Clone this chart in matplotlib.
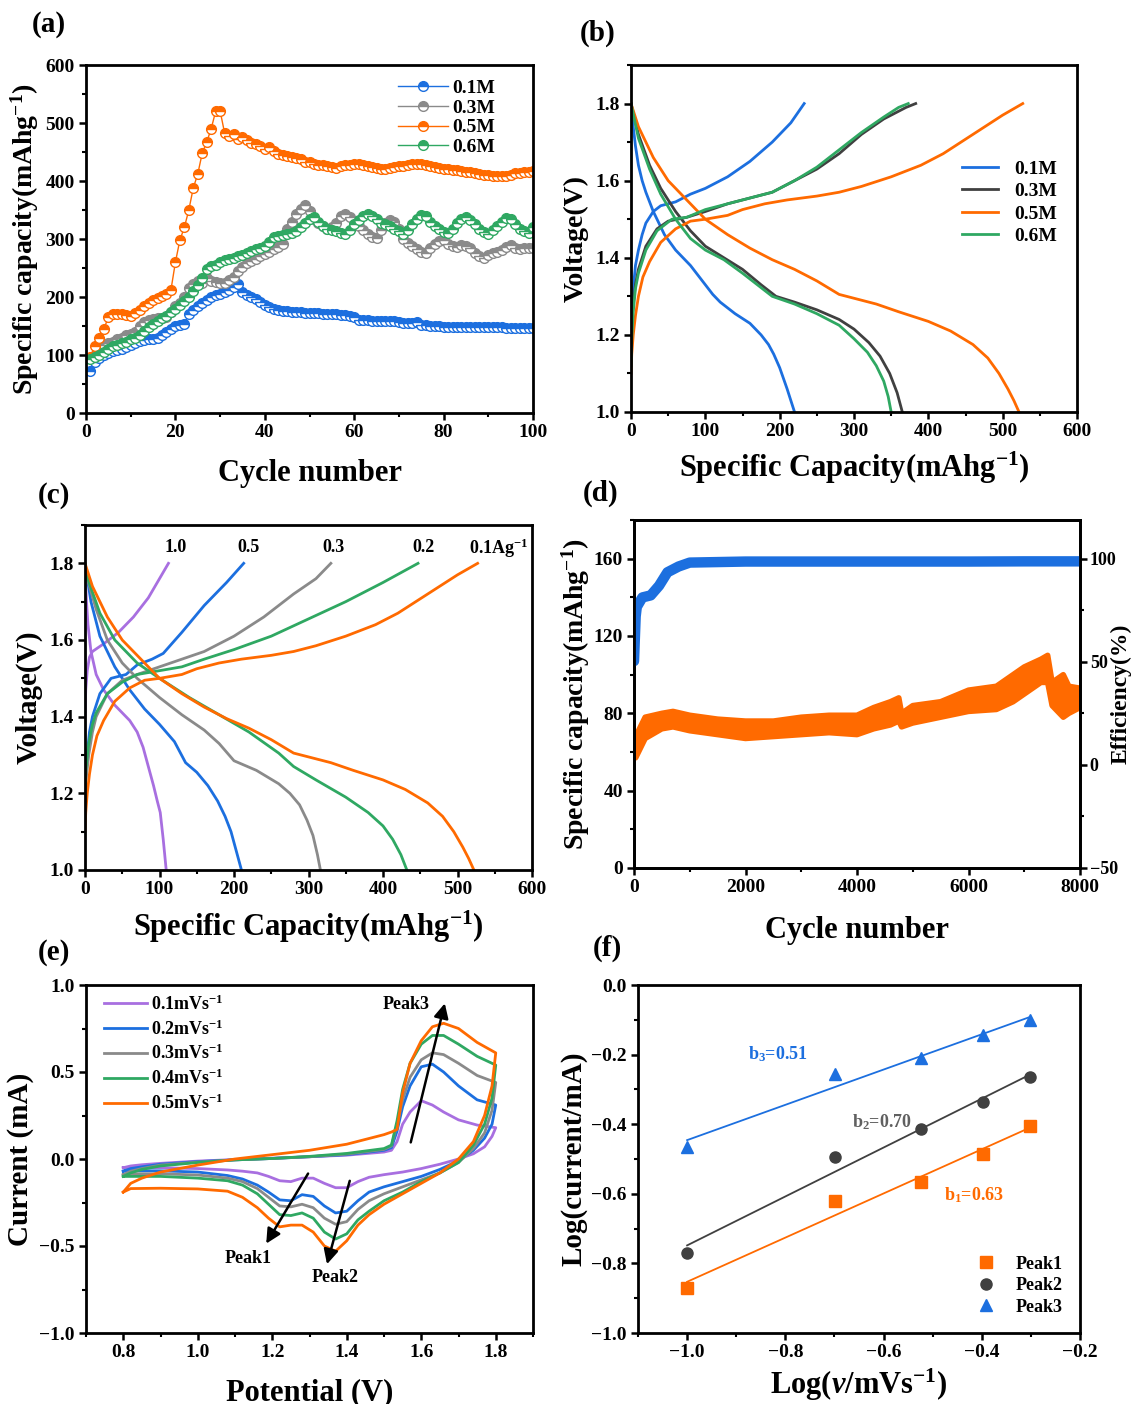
import numpy as np
import matplotlib
matplotlib.use("Agg")
import matplotlib.pyplot as plt
from matplotlib.ticker import MultipleLocator

plt.rcParams['font.family'] = ['Liberation Serif', 'DejaVu Serif']
plt.rcParams['font.weight'] = 'bold'
plt.rcParams['axes.labelweight'] = 'bold'
plt.rcParams['mathtext.default'] = 'regular'
plt.rcParams['mathtext.fontset'] = 'custom'
plt.rcParams['mathtext.it'] = 'Liberation Serif:italic:bold'
plt.rcParams['mathtext.rm'] = 'Liberation Serif:bold'

BLUE = '#1c6fdf'
ORANGE = '#ff6a00'
GREEN = '#2fa862'
GRAY = '#8a8a8a'
DGRAY = '#404040'
PURPLE = '#a86fe0'

# ---------------- (a) cycling at different concentrations ----------------
cycles_a = list(range(1, 101))
cap_01 = [72, 88, 95, 100, 104, 107, 109, 111, 113, 117,
          121, 124, 126, 127, 128, 130, 134, 139, 144, 150,
          152, 153, 170, 177, 184, 190, 195, 200, 203, 205,
          208, 212, 217, 222, 208, 204, 200, 196, 192, 186,
          182, 180, 178, 176, 176, 175, 174, 174, 173, 173,
          172, 172, 171, 171, 170, 170, 169, 169, 168, 166,
          161, 160, 160, 159, 159, 159, 158, 158, 158, 157,
          155, 155, 156, 157, 152, 151, 150, 150, 150, 149,
          149, 149, 149, 148, 148, 148, 148, 148, 148, 148,
          148, 148, 148, 147, 147, 147, 147, 147, 146, 146]
cap_03 = [95, 100, 110, 118, 120, 123, 127, 130, 134, 137,
          140, 150, 157, 160, 162, 163, 164, 166, 175, 185,
          190, 200, 215, 222, 228, 225, 232, 228, 226, 225,
          224, 230, 235, 245, 252, 258, 262, 266, 270, 274,
          277, 282, 287, 291, 318, 330, 343, 352, 358, 348,
          335, 328, 322, 318, 320, 328, 340, 343, 338, 330,
          322, 315, 308, 303, 301, 315, 328, 332, 330, 318,
          300, 293, 288, 283, 277, 275, 285, 292, 297, 298,
          292, 288, 287, 289, 288, 285, 276, 270, 268, 272,
          276, 278, 281, 286, 289, 285, 283, 284, 285, 284]
cap_05 = [97, 115, 130, 145, 165, 170, 170, 170, 169, 168,
          172, 178, 184, 190, 194, 198, 202, 206, 212, 260,
          298, 320, 350, 388, 412, 448, 467, 490, 520, 521,
          483, 478, 481, 473, 475, 470, 466, 463, 460, 455,
          458, 452, 446, 445, 443, 441, 440, 438, 433, 432,
          430, 428, 427, 425, 424, 422, 425, 427, 428, 430,
          430, 428, 426, 424, 422, 420, 420, 422, 424, 425,
          426, 428, 430, 430, 429, 428, 426, 424, 422, 420,
          420, 419, 419, 418, 416, 415, 414, 412, 411, 410,
          409, 408, 408, 409, 411, 413, 414, 415, 416, 417]
cap_06 = [93, 97, 100, 105, 110, 115, 118, 120, 123, 127,
          130, 135, 142, 148, 153, 158, 163, 168, 175, 180,
          187, 193, 200, 210, 220, 232, 248, 253, 256, 260,
          263, 266, 268, 270, 273, 276, 280, 282, 284, 288,
          295, 303, 305, 307, 309, 311, 314, 320, 327, 335,
          338, 330, 322, 318, 316, 313, 310, 308, 315, 325,
          333, 340, 343, 340, 335, 328, 325, 322, 318, 313,
          308, 315, 325, 335, 341, 340, 330, 322, 318, 312,
          310, 318, 328, 335, 338, 333, 325, 318, 312, 308,
          315, 322, 330, 336, 334, 325, 318, 313, 310, 320]
labels_a = ['0.1M', '0.3M', '0.5M', '0.6M']

# ---------------- (b) GCD at different concentrations ----------------
b01_chg_x = [0, 1, 3, 6, 10, 15, 20, 30, 40, 60, 80, 100, 130, 160, 190, 215, 233]
b01_chg_y = [1.15, 1.24, 1.32, 1.38, 1.42, 1.46, 1.49, 1.52, 1.535, 1.545, 1.565, 1.58, 1.61, 1.65, 1.70, 1.75, 1.80]
b01_dis_x = [0, 3, 6, 10, 15, 20, 30, 45, 60, 80, 100, 110, 120, 140, 160, 175, 185, 192, 200, 210, 220]
b01_dis_y = [1.80, 1.74, 1.69, 1.64, 1.60, 1.57, 1.52, 1.46, 1.42, 1.38, 1.33, 1.305, 1.285, 1.255, 1.23, 1.20, 1.175, 1.15, 1.115, 1.06, 1.0]

b03_chg_x = [0, 1, 3, 6, 10, 20, 35, 50, 75, 100, 130, 160, 190, 220, 250, 280, 310, 340, 370, 383]
b03_chg_y = [1.18, 1.23, 1.28, 1.33, 1.37, 1.43, 1.475, 1.495, 1.505, 1.52, 1.54, 1.555, 1.57, 1.60, 1.63, 1.67, 1.72, 1.76, 1.79, 1.80]
b03_dis_x = [0, 10, 25, 40, 60, 80, 100, 125, 150, 175, 195, 220, 250, 280, 300, 320, 335, 348, 358, 365]
b03_dis_y = [1.80, 1.72, 1.64, 1.58, 1.52, 1.47, 1.43, 1.40, 1.37, 1.33, 1.30, 1.285, 1.265, 1.24, 1.215, 1.18, 1.145, 1.10, 1.05, 1.0]

b05_chg_x = [0, 1, 3, 6, 10, 16, 25, 40, 60, 80, 100, 130, 150, 180, 210, 250, 280, 310, 350, 390, 420, 460, 500, 527]
b05_chg_y = [1.10, 1.15, 1.20, 1.25, 1.30, 1.35, 1.39, 1.44, 1.475, 1.495, 1.50, 1.51, 1.525, 1.54, 1.55, 1.56, 1.57, 1.585, 1.61, 1.64, 1.67, 1.72, 1.77, 1.80]
b05_dis_x = [0, 10, 30, 50, 75, 100, 130, 160, 190, 220, 250, 280, 300, 330, 360, 400, 430, 460, 480, 495, 507, 515, 522]
b05_dis_y = [1.80, 1.74, 1.66, 1.60, 1.55, 1.50, 1.46, 1.425, 1.395, 1.37, 1.34, 1.305, 1.295, 1.28, 1.26, 1.235, 1.21, 1.175, 1.14, 1.10, 1.06, 1.03, 1.0]

b06_chg_x = [0, 1, 3, 6, 10, 20, 35, 55, 75, 100, 130, 160, 190, 220, 250, 280, 310, 340, 360, 373]
b06_chg_y = [1.12, 1.19, 1.26, 1.32, 1.36, 1.42, 1.47, 1.50, 1.505, 1.525, 1.54, 1.555, 1.57, 1.60, 1.635, 1.68, 1.725, 1.765, 1.79, 1.80]
b06_dis_x = [0, 10, 25, 40, 60, 80, 100, 125, 150, 170, 190, 220, 250, 280, 300, 318, 330, 340, 346, 350]
b06_dis_y = [1.80, 1.71, 1.63, 1.565, 1.50, 1.45, 1.42, 1.395, 1.36, 1.33, 1.30, 1.28, 1.255, 1.225, 1.19, 1.155, 1.12, 1.08, 1.04, 1.0]

# ---------------- (c) GCD at different current densities ----------------
c10_chg_x = [0, 1, 3, 6, 10, 25, 45, 65, 85, 100, 112]
c10_chg_y = [1.40, 1.47, 1.52, 1.555, 1.57, 1.59, 1.62, 1.66, 1.71, 1.76, 1.80]
c10_dis_x = [0, 2, 4, 8, 15, 25, 40, 60, 70, 78, 85, 92, 97, 101, 105, 109]
c10_dis_y = [1.78, 1.70, 1.64, 1.57, 1.51, 1.47, 1.43, 1.39, 1.36, 1.32, 1.27, 1.22, 1.18, 1.15, 1.08, 1.0]

c05_chg_x = [0, 1, 3, 6, 10, 20, 35, 45, 55, 70, 90, 105, 130, 160, 190, 213]
c05_chg_y = [1.18, 1.24, 1.30, 1.36, 1.40, 1.46, 1.50, 1.505, 1.51, 1.535, 1.55, 1.565, 1.62, 1.69, 1.75, 1.80]
c05_dis_x = [0, 8, 20, 40, 60, 80, 100, 120, 135, 150, 165, 178, 188, 196, 203, 210]
c05_dis_y = [1.80, 1.70, 1.61, 1.53, 1.47, 1.42, 1.38, 1.335, 1.28, 1.255, 1.22, 1.18, 1.14, 1.10, 1.05, 1.0]

c03_chg_x = [0, 1, 5, 10, 15, 30, 50, 70, 100, 130, 160, 200, 240, 280, 310, 330]
c03_chg_y = [1.17, 1.23, 1.30, 1.36, 1.40, 1.46, 1.495, 1.51, 1.53, 1.55, 1.57, 1.61, 1.66, 1.72, 1.76, 1.80]
c03_dis_x = [0, 15, 30, 50, 70, 100, 130, 160, 180, 200, 230, 260, 275, 288, 298, 306, 312, 316]
c03_dis_y = [1.78, 1.68, 1.60, 1.54, 1.50, 1.45, 1.405, 1.365, 1.33, 1.285, 1.26, 1.225, 1.20, 1.17, 1.13, 1.09, 1.04, 1.0]

c02_chg_x = [0, 1, 5, 10, 15, 30, 50, 70, 100, 130, 160, 200, 250, 300, 350, 400, 447]
c02_chg_y = [1.20, 1.26, 1.33, 1.38, 1.41, 1.46, 1.49, 1.51, 1.52, 1.53, 1.55, 1.575, 1.61, 1.655, 1.70, 1.75, 1.80]
c02_dis_x = [0, 20, 40, 70, 100, 140, 180, 220, 260, 280, 310, 350, 380, 400, 413, 424, 432]
c02_dis_y = [1.78, 1.67, 1.60, 1.54, 1.50, 1.45, 1.405, 1.36, 1.305, 1.27, 1.235, 1.19, 1.15, 1.115, 1.08, 1.04, 1.0]

rate_labels = ['1.0', '0.5', '0.3', '0.2', '0.1Ag$^{-1}$']
rate_label_x = [122, 219, 333, 454, 556]

# ---------------- (d) long cycling ----------------
cyc_d = [0, 30, 200, 500, 700, 1000, 1500, 2000, 2500, 3000, 3500, 4000, 4300, 4600,
         4750, 4800, 5000, 5500, 6000, 6500, 6800, 7000, 7300, 7420, 7500, 7700, 7800, 8000]
cap_d_lo = [57, 57, 67, 72, 73, 71, 69, 67, 68, 69, 70, 69, 72, 74,
            76, 73, 75, 78, 81, 82, 86, 90, 96, 96, 84, 78, 80, 83]
cap_d_hi = [68, 68, 78, 80, 81, 79, 77, 76, 76, 78, 79, 79, 83, 86,
            88, 80, 84, 86, 92, 94, 100, 104, 108, 110, 96, 100, 94, 93]
cyc_eff = [0, 30, 50, 150, 300, 450, 600, 800, 1000, 2000, 3000, 4000, 5000, 6000, 7000, 8000]
eff = [50.3, 72.0, 76.6, 81.2, 82.2, 86.9, 93.4, 96.2, 98.1, 98.6, 98.6, 98.6, 98.6, 98.6, 98.7, 98.7]

# ---------------- (e) CV ----------------
cv_up_v = [0.8, 0.82, 0.85, 0.9, 1.0, 1.1, 1.2, 1.3, 1.4, 1.5, 1.52, 1.535, 1.55, 1.57, 1.6, 1.63, 1.66, 1.7, 1.75, 1.8]
cv_dn_v = [1.8, 1.79, 1.77, 1.74, 1.7, 1.65, 1.6, 1.55, 1.5, 1.46, 1.43, 1.4, 1.37, 1.34, 1.31, 1.28,
           1.25, 1.22, 1.19, 1.16, 1.12, 1.08, 1.0, 0.9, 0.82, 0.8]
cv_up_01 = [-0.05, -0.04, -0.033, -0.025, -0.012, -0.003, 0.005, 0.013, 0.022, 0.04, 0.05, 0.1, 0.2, 0.27, 0.335, 0.31, 0.27, 0.225, 0.195, 0.18]
cv_dn_01 = [0.18, 0.13, 0.07, 0.03, 0.0, -0.03, -0.055, -0.075, -0.09, -0.105, -0.13, -0.165, -0.165, -0.14, -0.11, -0.11,
            -0.13, -0.125, -0.1, -0.08, -0.07, -0.063, -0.055, -0.05, -0.05, -0.05]
cv_up_02 = [-0.07, -0.055, -0.045, -0.03, -0.015, -0.005, 0.003, 0.013, 0.025, 0.05, 0.065, 0.16, 0.3, 0.42, 0.53, 0.545, 0.5, 0.42, 0.34, 0.31]
cv_dn_02 = [0.31, 0.2, 0.12, 0.05, -0.01, -0.06, -0.1, -0.13, -0.16, -0.19, -0.24, -0.3, -0.31, -0.27, -0.215, -0.205,
            -0.24, -0.235, -0.19, -0.15, -0.115, -0.095, -0.075, -0.068, -0.068, -0.07]
cv_up_03 = [-0.09, -0.07, -0.055, -0.035, -0.018, -0.005, 0.003, 0.013, 0.028, 0.055, 0.075, 0.2, 0.34, 0.47, 0.57, 0.61, 0.6, 0.55, 0.48, 0.44]
cv_dn_03 = [0.44, 0.28, 0.15, 0.06, -0.02, -0.08, -0.12, -0.16, -0.2, -0.24, -0.29, -0.36, -0.375, -0.34, -0.28, -0.26,
            -0.275, -0.27, -0.22, -0.17, -0.13, -0.11, -0.092, -0.085, -0.085, -0.09]
cv_up_04 = [-0.1, -0.08, -0.06, -0.04, -0.02, -0.005, 0.003, 0.015, 0.032, 0.06, 0.08, 0.22, 0.4, 0.55, 0.66, 0.71, 0.71, 0.66, 0.59, 0.54]
cv_dn_04 = [0.54, 0.35, 0.2, 0.08, -0.02, -0.08, -0.13, -0.19, -0.24, -0.3, -0.35, -0.43, -0.46, -0.42, -0.34, -0.31,
            -0.325, -0.32, -0.26, -0.2, -0.15, -0.125, -0.11, -0.1, -0.1, -0.1]
cv_up_05 = [-0.19, -0.14, -0.11, -0.075, -0.035, 0.0, 0.025, 0.05, 0.085, 0.14, 0.155, 0.17, 0.38, 0.55, 0.68, 0.76, 0.78, 0.75, 0.67, 0.61]
cv_dn_05 = [0.61, 0.42, 0.25, 0.1, 0.0, -0.08, -0.14, -0.2, -0.26, -0.32, -0.38, -0.47, -0.53, -0.5, -0.42, -0.38,
            -0.38, -0.39, -0.34, -0.28, -0.22, -0.185, -0.172, -0.168, -0.17, -0.19]
cv_labels = ['0.1mVs$^{-1}$', '0.2mVs$^{-1}$', '0.3mVs$^{-1}$', '0.4mVs$^{-1}$', '0.5mVs$^{-1}$']

# ---------------- (f) b-value ----------------
log_v = [-1.0, -0.699, -0.523, -0.398, -0.301]
peak1 = [-0.87, -0.62, -0.565, -0.485, -0.405]
peak2 = [-0.77, -0.495, -0.415, -0.335, -0.265]
peak3 = [-0.465, -0.255, -0.21, -0.145, -0.10]


W, H = 1135, 1404
fig = plt.figure(figsize=(W / 100, H / 100), dpi=100)
TICK = 14


def box(l, t, r, b):
    return [l / W, 1 - b / H, (r - l) / W, (b - t) / H]


def style(ax):
    for s in ax.spines.values():
        s.set_linewidth(2)
    ax.tick_params(which='major', direction='out', length=5, width=1.8, labelsize=TICK, pad=3)
    ax.tick_params(which='minor', direction='out', length=3, width=1.5)
    for lab in ax.get_xticklabels() + ax.get_yticklabels():
        lab.set_fontweight('bold')


ax_a = fig.add_axes(box(86, 65, 533, 413))
ax_b = fig.add_axes(box(631, 65, 1077, 412))
ax_c = fig.add_axes(box(85, 525, 532, 870))
ax_d = fig.add_axes(box(634, 520, 1080, 868))
ax_e = fig.add_axes(box(86, 985, 533, 1333))
ax_f = fig.add_axes(box(638, 985, 1080, 1333))

# (a)
for ys, col, lab in zip([cap_01, cap_03, cap_05, cap_06], [BLUE, GRAY, ORANGE, GREEN], labels_a):
    ax_a.plot(cycles_a, ys, '-o', color=col, lw=1, ms=7, mew=1, fillstyle='top',
              markerfacecoloralt='white', markeredgecolor=col, label=lab)
ax_a.set_xlim(0, 100)
ax_a.set_ylim(0, 600)
ax_a.xaxis.set_major_locator(MultipleLocator(20))
ax_a.xaxis.set_minor_locator(MultipleLocator(10))
ax_a.yaxis.set_major_locator(MultipleLocator(100))
ax_a.yaxis.set_minor_locator(MultipleLocator(50))
ax_a.set_xlabel('Cycle number', fontsize=22, labelpad=13)
ax_a.set_ylabel('Specific capacity(mAhg$^{-1}$)', fontsize=20, labelpad=3)
ax_a.legend(loc='upper right', bbox_to_anchor=(0.915, 0.958), frameon=False, fontsize=14,
            handlelength=2.6, handletextpad=0.2, labelspacing=0.1, borderaxespad=0, borderpad=0)
style(ax_a)

# (b)
for cx, cy, dx, dy, col, lab in [
        (b01_chg_x, b01_chg_y, b01_dis_x, b01_dis_y, BLUE, '0.1M'),
        (b03_chg_x, b03_chg_y, b03_dis_x, b03_dis_y, DGRAY, '0.3M'),
        (b05_chg_x, b05_chg_y, b05_dis_x, b05_dis_y, ORANGE, '0.5M'),
        (b06_chg_x, b06_chg_y, b06_dis_x, b06_dis_y, GREEN, '0.6M')]:
    ax_b.plot(cx, cy, color=col, lw=2, label=lab)
    ax_b.plot(dx, dy, color=col, lw=2)
ax_b.set_xlim(0, 600)
ax_b.set_ylim(1.0, 1.9)
ax_b.xaxis.set_major_locator(MultipleLocator(100))
ax_b.xaxis.set_minor_locator(MultipleLocator(50))
ax_b.set_yticks([1.0, 1.2, 1.4, 1.6, 1.8])
ax_b.yaxis.set_minor_locator(MultipleLocator(0.1))
ax_b.set_xlabel('Specific Capacity(mAhg$^{-1}$)', fontsize=22, labelpad=7)
ax_b.set_ylabel('Voltage(V)', fontsize=20, labelpad=5)
ax_b.legend(loc='upper right', bbox_to_anchor=(0.955, 0.726), frameon=False, fontsize=14,
            handlelength=1.9, handletextpad=0.8, labelspacing=0.25, borderaxespad=0, borderpad=0)
style(ax_b)

# (c)
curves_c = [(c10_chg_x, c10_chg_y, c10_dis_x, c10_dis_y, PURPLE),
            (c05_chg_x, c05_chg_y, c05_dis_x, c05_dis_y, BLUE),
            (c03_chg_x, c03_chg_y, c03_dis_x, c03_dis_y, GRAY),
            (c02_chg_x, c02_chg_y, c02_dis_x, c02_dis_y, GREEN),
            (b05_chg_x, b05_chg_y, b05_dis_x, b05_dis_y, ORANGE)]
for (cx, cy, dx, dy, col), lab, lx in zip(curves_c, rate_labels, rate_label_x):
    ax_c.plot(cx, cy, color=col, lw=2)
    ax_c.plot(dx, dy, color=col, lw=2)
    ax_c.text(lx, 1.84, lab, fontsize=13, fontweight='bold', ha='center', va='center')
ax_c.set_xlim(0, 600)
ax_c.set_ylim(1.0, 1.9)
ax_c.xaxis.set_major_locator(MultipleLocator(100))
ax_c.xaxis.set_minor_locator(MultipleLocator(50))
ax_c.set_yticks([1.0, 1.2, 1.4, 1.6, 1.8])
ax_c.yaxis.set_minor_locator(MultipleLocator(0.1))
ax_c.set_xlabel('Specific Capacity(mAhg$^{-1}$)', fontsize=22, labelpad=8)
ax_c.set_ylabel('Voltage(V)', fontsize=21, labelpad=5)
style(ax_c)

# (d)
ax_d.fill_between(cyc_d, cap_d_lo, cap_d_hi, color=ORANGE, lw=0)
ax_d.plot(cyc_d, cap_d_lo, color=ORANGE, lw=4, solid_capstyle='round', solid_joinstyle='round')
ax_d.plot(cyc_d, cap_d_hi, color=ORANGE, lw=4, solid_capstyle='round', solid_joinstyle='round')
ax_d.set_xlim(0, 8000)
ax_d.set_ylim(0, 180)
ax_d.xaxis.set_major_locator(MultipleLocator(2000))
ax_d.xaxis.set_minor_locator(MultipleLocator(1000))
ax_d.yaxis.set_major_locator(MultipleLocator(40))
ax_d.yaxis.set_minor_locator(MultipleLocator(20))
ax_d.set_xlabel('Cycle number', fontsize=22, labelpad=14)
ax_d.set_ylabel('Specific capacity(mAhg$^{-1}$)', fontsize=20, labelpad=1)
style(ax_d)
ax_d2 = ax_d.twinx()
ax_d2.plot(cyc_eff, eff, color=BLUE, lw=7.5, solid_capstyle='round', solid_joinstyle='round')
ax_d2.set_ylim(-50, -50 + 180 * 150 / 160)
ax_d2.yaxis.set_major_locator(MultipleLocator(50))
ax_d2.yaxis.set_minor_locator(MultipleLocator(25))
style(ax_d2)
ax_d2.tick_params(axis='y', labelsize=13, pad=2)
fig.text(1121 / W, 1 - 694 / H, 'Efficiency(%)', fontsize=17, fontweight='bold',
         rotation=90, ha='center', va='center')

# (e)
cv_sets = [(cv_up_01, cv_dn_01, PURPLE), (cv_up_02, cv_dn_02, BLUE), (cv_up_03, cv_dn_03, GRAY),
           (cv_up_04, cv_dn_04, GREEN), (cv_up_05, cv_dn_05, ORANGE)]
for (up, dn, col), lab in zip(cv_sets, cv_labels):
    ax_e.plot(cv_up_v + cv_dn_v, up + dn, color=col, lw=2, label=lab)
arrow = dict(arrowstyle='-|>', color='black', lw=1.8, mutation_scale=22)
ax_e.annotate('', xy=(1.18, -0.50), xytext=(1.30, -0.07), arrowprops=arrow)
ax_e.annotate('', xy=(1.345, -0.62), xytext=(1.41, -0.11), arrowprops=arrow)
ax_e.annotate('', xy=(1.665, 0.91), xytext=(1.57, 0.08), arrowprops=arrow)
ax_e.text(1.135, -0.57, 'Peak1', fontsize=13, fontweight='bold', ha='center', va='center')
ax_e.text(1.37, -0.68, 'Peak2', fontsize=13, fontweight='bold', ha='center', va='center')
ax_e.text(1.56, 0.89, 'Peak3', fontsize=13, fontweight='bold', ha='center', va='center')
ax_e.set_xlim(0.7, 1.9)
ax_e.set_ylim(-1.0, 1.0)
ax_e.set_xticks([0.8, 1.0, 1.2, 1.4, 1.6, 1.8])
ax_e.xaxis.set_minor_locator(MultipleLocator(0.1))
ax_e.yaxis.set_major_locator(MultipleLocator(0.5))
ax_e.yaxis.set_minor_locator(MultipleLocator(0.25))
ax_e.set_xlabel('Potential (V)', fontsize=22, labelpad=12)
ax_e.set_ylabel('Current (mA)', fontsize=21, labelpad=4)
ax_e.legend(loc='upper left', bbox_to_anchor=(0.04, 0.973), frameon=False, fontsize=13,
            handlelength=2.4, handletextpad=0.2, labelspacing=0.3, borderaxespad=0, borderpad=0)
style(ax_e)

# (f)
xs = np.array(log_v)
for ys, col, mk, lab in [(peak1, ORANGE, 's', 'Peak1'), (peak2, DGRAY, 'o', 'Peak2'),
                         (peak3, BLUE, '^', 'Peak3')]:
    k, c = np.polyfit(xs, ys, 1)
    ax_f.plot([xs[0], xs[-1]], [k * xs[0] + c, k * xs[-1] + c], color=col, lw=1.3)
    ax_f.plot(xs, ys, mk, color=col, ms=8, ls='none', label=lab)
ax_f.text(-0.815, -0.2, 'b$_3$=0.51', color=BLUE, fontsize=13, fontweight='bold', ha='center', va='center')
ax_f.text(-0.603, -0.395, 'b$_2$=0.70', color='#606060', fontsize=13, fontweight='bold', ha='center', va='center')
ax_f.text(-0.416, -0.603, 'b$_1$=0.63', color=ORANGE, fontsize=13, fontweight='bold', ha='center', va='center')
ax_f.set_xlim(-1.1, -0.2)
ax_f.set_ylim(-1.0, 0.0)
ax_f.xaxis.set_major_locator(MultipleLocator(0.2))
ax_f.xaxis.set_minor_locator(MultipleLocator(0.1))
ax_f.yaxis.set_major_locator(MultipleLocator(0.2))
ax_f.yaxis.set_minor_locator(MultipleLocator(0.1))
ax_f.set_xlabel('Log($\\mathit{v}$/mVs$^{-1}$)', fontsize=22, labelpad=4)
ax_f.set_ylabel('Log(current/mA)', fontsize=21, labelpad=3)
ax_f.legend(loc='lower right', bbox_to_anchor=(0.96, 0.05), frameon=False, fontsize=13,
            handletextpad=0.6, labelspacing=0.25, borderaxespad=0, borderpad=0)
style(ax_f)

# panel letters
for lab, x, y in [('(a)', 32, 25), ('(b)', 580, 33), ('(c)', 38, 495),
                  ('(d)', 583, 493), ('(e)', 38, 952), ('(f)', 593, 948)]:
    fig.text(x / W, 1 - y / H, lab, fontsize=21, fontweight='bold', ha='left', va='center')

fig.savefig('out.png', dpi=100)
